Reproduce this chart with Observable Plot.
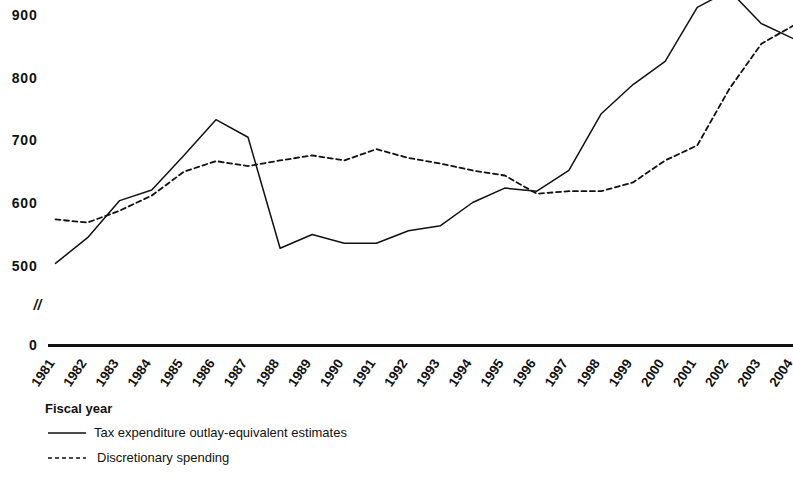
<!DOCTYPE html>
<html>
<head>
<meta charset="utf-8">
<script src="https://cdn.jsdelivr.net/npm/d3@7"></script>
<script src="https://cdn.jsdelivr.net/npm/@observablehq/plot@0.6"></script>
<style>
  html, body { margin: 0; padding: 0; background: #fff; }
  body { width: 793px; height: 498px; overflow: hidden; font-family: "Liberation Sans", Arial, Helvetica, sans-serif; color: #111; }
  #chart svg { display: block; overflow: visible; }
  #chart svg g[aria-label="y-axis tick label"] text { letter-spacing: 0.8px; }
  .xlabel { font-weight: bold; font-size: 13px; margin: 7px 0 0 45px; line-height: 13px; }
  .legend { margin-left: 48px; margin-top: 5px; }
  .row { display: flex; align-items: center; height: 25px; font-size: 13px; }
  .row svg { margin-right: 8px; }
</style>
</head>
<body>
<div id="chart"></div>
<div class="xlabel">Fiscal year</div>
<div class="legend">
  <div class="row"><svg width="38" height="6"><line x1="0" y1="3" x2="38" y2="3" stroke="#111" stroke-width="1.3"/></svg><span>Tax expenditure outlay-equivalent estimates</span></div>
  <div class="row"><svg width="38" height="6" style="margin-right:11px"><line x1="0" y1="3" x2="38" y2="3" stroke="#111" stroke-width="1.6" stroke-dasharray="4,3"/></svg><span>Discretionary spending</span></div>
</div>
<script>
const years = [1981,1982,1983,1984,1985,1986,1987,1988,1989,1990,1991,1992,1993,1994,1995,1996,1997,1998,1999,2000,2001,2002,2003,2004];
const taxExpenditure = [505,546,605,622,677,734,706,529,551,537,537,557,565,602,625,620,653,743,790,827,913,940,887,863];
const discretionary = [575,570,589,613,651,668,660,669,677,669,687,673,664,653,645,616,620,620,634,669,693,783,855,884];
const yTicks = [0,500,600,700,800,900];
const seriesNames = ["Tax expenditure outlay-equivalent estimates", "Discretionary spending"];

const rows = [];
years.forEach((yr, i) => {
  rows.push({year: yr, value: taxExpenditure[i], series: seriesNames[0]});
  rows.push({year: yr, value: discretionary[i], series: seriesNames[1]});
});

const chart = Plot.plot({
  width: 793,
  height: 395,
  marginLeft: 55,
  marginRight: 0,
  marginTop: 0,
  marginBottom: 50,
  style: {fontFamily: "'Liberation Sans', Arial, sans-serif", color: "#111", background: "#fff"},
  x: {type: "linear", domain: [1981, 2004], range: [55, 793]},
  y: {type: "linear", domain: [0, 500, 900], range: [345, 266, 15]},
  marks: [
    Plot.ruleY([0], {stroke: "#111", strokeWidth: 3, insetLeft: -7}),
    Plot.line(rows.filter(d => d.series === seriesNames[0]), {x: "year", y: "value", stroke: "#111", strokeWidth: 1.5}),
    Plot.line(rows.filter(d => d.series === seriesNames[1]), {x: "year", y: "value", stroke: "#111", strokeWidth: 1.8, strokeDasharray: "5,3.5"}),
    Plot.axisY({ticks: yTicks, tickSize: 0, tickPadding: 18, tickFormat: d => String(d), fontWeight: "bold", fontSize: 14, label: null}),
    Plot.axisX({ticks: years, tickSize: 0, tickPadding: 15, dx: -4, tickRotate: -56, tickFormat: d => String(d), fontWeight: "bold", fontSize: 13.5, label: null}),
    Plot.text([250], {y: d => d, text: () => "//", frameAnchor: "left", dx: -22, fontStyle: "italic", fontWeight: "bold", fontSize: 14})
  ]
});
document.getElementById("chart").appendChild(chart);
</script>
</body>
</html>
